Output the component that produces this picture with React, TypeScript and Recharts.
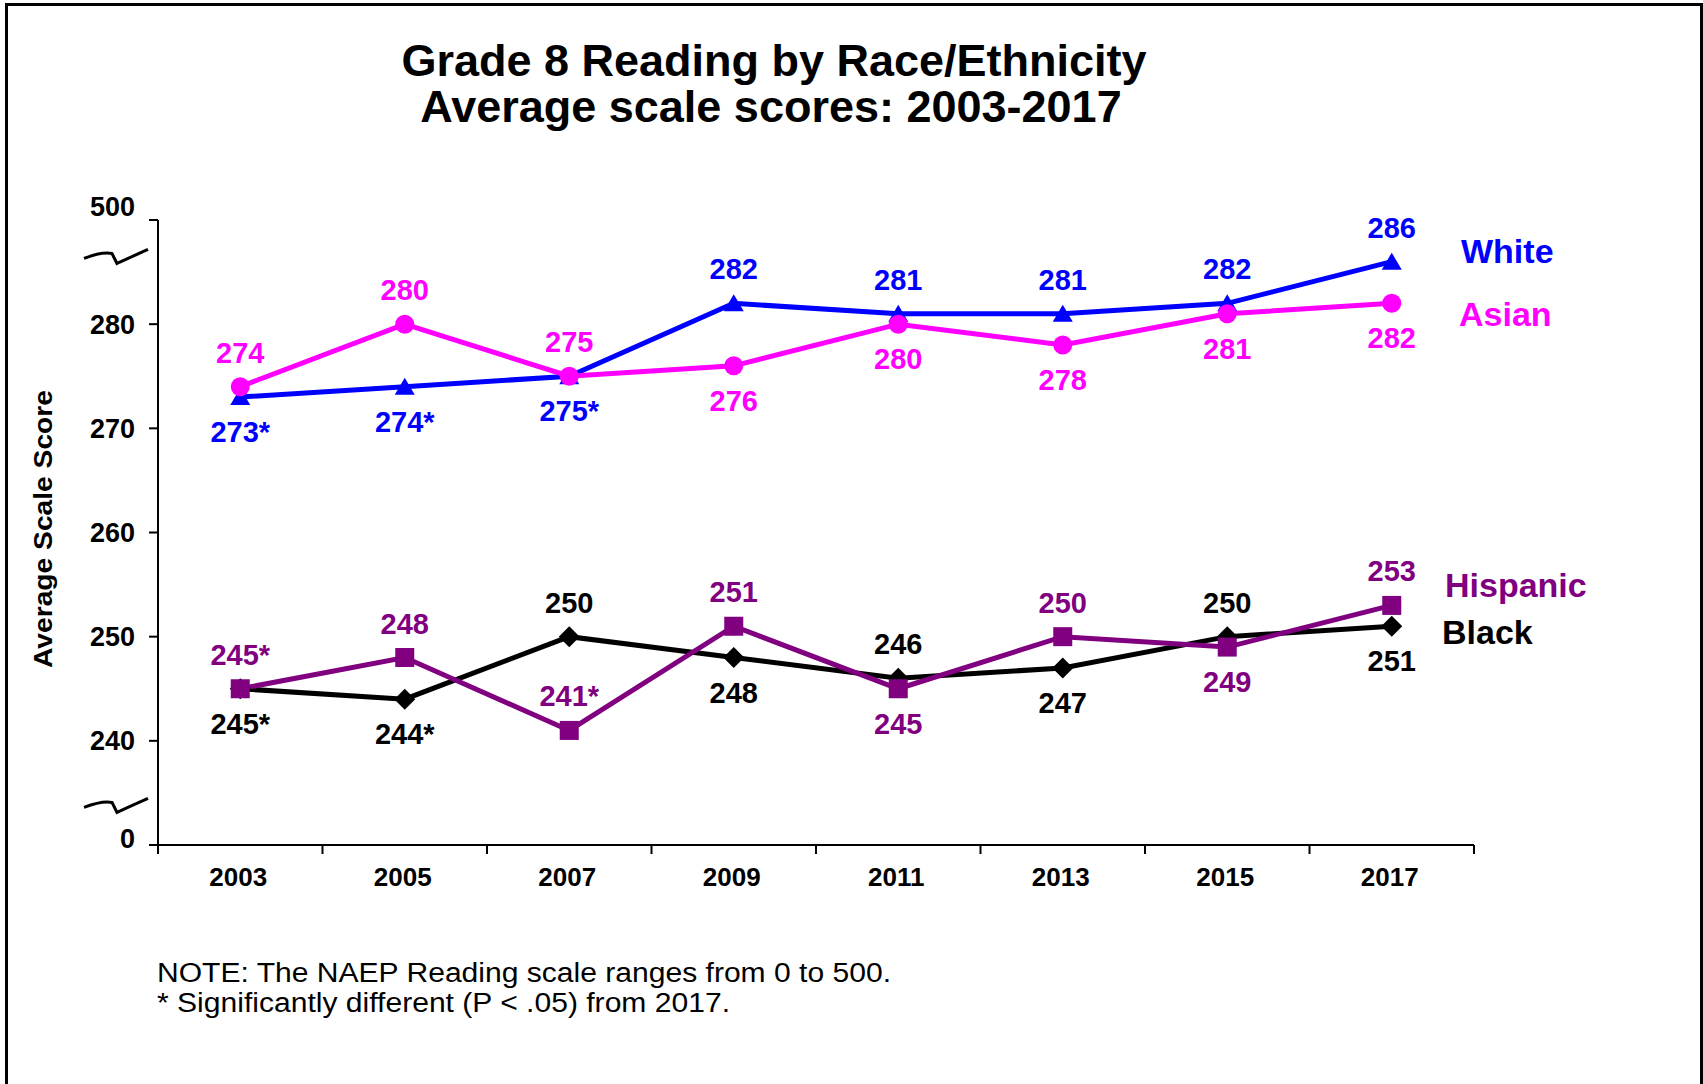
import React from 'react'
import { ComposedChart, Line, XAxis, YAxis, ReferenceLine } from 'recharts'

const years = ['2003', '2005', '2007', '2009', '2011', '2013', '2015', '2017']
const white = [273, 274, 275, 282, 281, 281, 282, 286]
const asian = [274, 280, 275, 276, 280, 278, 281, 282]
const hispanic = [245, 248, 241, 251, 245, 250, 249, 253]
const black = [245, 244, 250, 248, 246, 247, 250, 251]

// * = significantly different from 2017
const whiteSig = [true, true, true, false, false, false, false, false]
const asianSig = [false, false, false, false, false, false, false, false]
const hispanicSig = [true, false, true, false, false, false, false, false]
const blackSig = [true, true, false, false, false, false, false, false]

// axis is broken: the top tick stands for 500 and the bottom one for 0
const yTicks = [230, 240, 250, 260, 270, 280, 290]
const yTickLabels = ['0', '240', '250', '260', '270', '280', '500']
const breaks = [286.5, 233.8]

// where each data label sits relative to its marker
const whitePlace = ['below', 'below', 'below', 'above', 'above', 'above', 'above', 'above']
const asianPlace = ['above', 'above', 'above', 'below', 'below', 'below', 'below', 'below']
const hispanicPlace = ['above', 'above', 'above', 'above', 'below', 'above', 'below', 'above']
const blackPlace = ['below', 'below', 'above', 'below', 'above', 'below', 'above', 'below']

const W = 1703
const H = 1084
const MARGIN = { top: 220, right: 229, left: 78, bottom: 179 }
const Y_AXIS_W = 80
const PLOT_W = W - MARGIN.left - MARGIN.right - Y_AXIS_W
// half of one year's slot, so points sit in the middle like excel's category axis
const HALF = PLOT_W / years.length / 2
const FONT = '"Liberation Sans", Arial, sans-serif'

const chartData = years.map((year, i) => ({
  year,
  White: white[i],
  Asian: asian[i],
  Hispanic: hispanic[i],
  Black: black[i]
}))

type Shape = 'triangle' | 'circle' | 'square' | 'diamond'

function makeDot(color: string, shape: Shape, sig: boolean[], place: string[]) {
  return (p: any) => {
    const { cx, cy, index, value } = p
    if (cx == null || cy == null) return <g key={`e${index}`} />
    let mark
    if (shape === 'triangle') {
      mark = <polygon points={`${cx},${cy - 9} ${cx - 10},${cy + 8} ${cx + 10},${cy + 8}`} fill={color} />
    } else if (shape === 'circle') {
      mark = <circle cx={cx} cy={cy} r={9.5} fill={color} />
    } else if (shape === 'square') {
      mark = <rect x={cx - 9.5} y={cy - 9.5} width={19} height={19} fill={color} />
    } else {
      mark = <polygon points={`${cx},${cy - 10.5} ${cx + 10.5},${cy} ${cx},${cy + 10.5} ${cx - 10.5},${cy}`} fill={color} />
    }
    const v = Array.isArray(value) ? value[1] : value
    const label = `${v}${sig[index] ? '*' : ''}`
    const ty = place[index] === 'above' ? cy - 24 : cy + 45
    return (
      <g key={`d${index}`}>
        {mark}
        <text x={cx} y={ty} textAnchor="middle" fontSize={29} fontWeight="bold" fill={color} fontFamily={FONT}>
          {label}
        </text>
      </g>
    )
  }
}

const YTick = (p: any) => {
  const { x, y, payload } = p
  const i = yTicks.indexOf(payload.value)
  const dy = payload.value === 290 ? -13 : payload.value === 230 ? -6 : 0
  return (
    <text x={x} y={y + dy} dy="0.35em" textAnchor="end" fontSize={27} fontWeight="bold" fill="#000" fontFamily={FONT}>
      {yTickLabels[i]}
    </text>
  )
}

// tick marks go between the years, label in the middle
const XTick = (p: any) => {
  const { x, y, payload, index } = p
  const last = index === years.length - 1
  return (
    <g>
      <line x1={x - HALF} y1={y} x2={x - HALF} y2={y + 9} stroke="#000" strokeWidth={2} />
      {last && <line x1={x + HALF} y1={y} x2={x + HALF} y2={y + 9} stroke="#000" strokeWidth={2} />}
      <text x={x - 2} y={y + 41} textAnchor="middle" fontSize={26} fontWeight="bold" fill="#000" fontFamily={FONT}>
        {payload.value}
      </text>
    </g>
  )
}

// little squiggle drawn left of the y axis to mark the break
const BreakMark = (p: any) => {
  const x0 = p.x1 - 74
  const y = p.y1
  const d = `M${x0},${y + 2} Q${x0 + 18},${y - 5} ${x0 + 28},${y - 3} L${x0 + 33},${y + 7} Q${x0 + 46},${y + 1} ${x0 + 64},${y - 7}`
  return <path d={d} stroke="#000" strokeWidth={3} fill="none" />
}

export default function App() {
  return (
    <div style={{ position: 'absolute', left: 0, top: 0, width: W, height: H, background: '#fff', overflow: 'hidden' }}>
      <div
        style={{
          position: 'absolute',
          left: 5,
          top: 3,
          width: 1692,
          height: 1100,
          border: '3px solid #000'
        }}
      />
      <div style={{ position: 'absolute', left: 0, top: 0 }}>
        <ComposedChart width={W} height={H} data={chartData} margin={MARGIN}>
          <XAxis
            dataKey="year"
            height={60}
            interval={0}
            padding={{ left: HALF, right: HALF }}
            axisLine={{ stroke: '#000', strokeWidth: 2 }}
            tickLine={false}
            tickSize={0}
            tickMargin={0}
            tick={<XTick />}
          />
          <YAxis
            type="number"
            domain={[230, 290]}
            ticks={yTicks}
            interval={0}
            width={Y_AXIS_W}
            tickSize={9}
            tickMargin={14}
            axisLine={{ stroke: '#000', strokeWidth: 2 }}
            tickLine={{ stroke: '#000', strokeWidth: 2 }}
            tick={<YTick />}
          />
          {breaks.map((b) => (
            <ReferenceLine key={b} y={b} shape={BreakMark} />
          ))}
          <Line type="linear" dataKey="Black" stroke="#000000" strokeWidth={5} dot={makeDot('#000000', 'diamond', blackSig, blackPlace)} activeDot={false} isAnimationActive={false} />
          <Line type="linear" dataKey="Hispanic" stroke="#800080" strokeWidth={5} dot={makeDot('#800080', 'square', hispanicSig, hispanicPlace)} activeDot={false} isAnimationActive={false} />
          <Line type="linear" dataKey="White" stroke="#0000FF" strokeWidth={5} dot={makeDot('#0000FF', 'triangle', whiteSig, whitePlace)} activeDot={false} isAnimationActive={false} />
          <Line type="linear" dataKey="Asian" stroke="#FF00FF" strokeWidth={5} dot={makeDot('#FF00FF', 'circle', asianSig, asianPlace)} activeDot={false} isAnimationActive={false} />
        </ComposedChart>
      </div>
      <svg width={W} height={H} style={{ position: 'absolute', left: 0, top: 0, pointerEvents: 'none' }} fontFamily={FONT}>
        <text x={774} y={76} textAnchor="middle" fontSize={45} fontWeight="bold" fill="#000">
          Grade 8 Reading by Race/Ethnicity
        </text>
        <text x={771} y={122} textAnchor="middle" fontSize={45} fontWeight="bold" fill="#000">
          Average scale scores: 2003-2017
        </text>
        <text transform="translate(52,529) rotate(-90)" textAnchor="middle" fontSize={26} fontWeight="bold" fill="#000" textLength={278} lengthAdjust="spacingAndGlyphs">
          Average Scale Score
        </text>
        <text x={1461} y={263} fontSize={34} fontWeight="bold" fill="#0000FF">White</text>
        <text x={1459} y={326} fontSize={34} fontWeight="bold" fill="#FF00FF">Asian</text>
        <text x={1445} y={597} fontSize={34} fontWeight="bold" fill="#800080">Hispanic</text>
        <text x={1442} y={644} fontSize={34} fontWeight="bold" fill="#000">Black</text>
        <text x={157} y={982} fontSize={27} fill="#000" textLength={734} lengthAdjust="spacingAndGlyphs">
          NOTE: The NAEP Reading scale ranges from 0 to 500.
        </text>
        <text x={157} y={1012} fontSize={27} fill="#000" textLength={573} lengthAdjust="spacingAndGlyphs">
          * Significantly different (P &lt; .05) from 2017.
        </text>
      </svg>
    </div>
  )
}
